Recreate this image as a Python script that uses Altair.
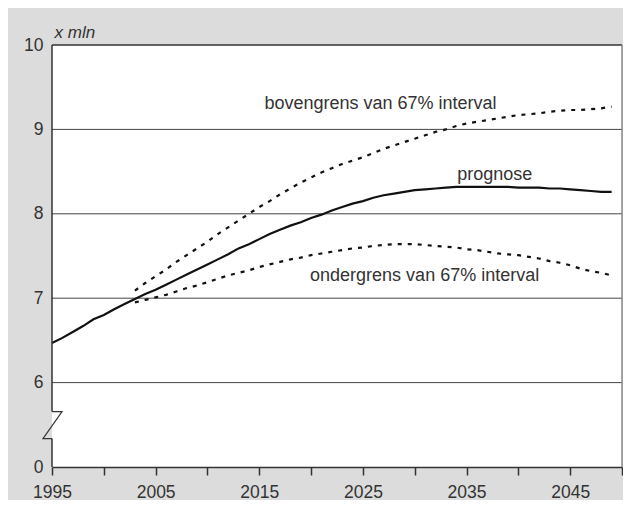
import altair as alt
import pandas as pd

# ---- data ----
years_prognose = list(range(1995, 2050))
prognose = [6.47, 6.53, 6.60, 6.67, 6.75, 6.80, 6.87, 6.93, 6.99, 7.05,
            7.10, 7.16, 7.22, 7.28, 7.34, 7.40, 7.46, 7.52, 7.59, 7.64,
            7.70, 7.76, 7.81, 7.86, 7.90, 7.95, 7.99, 8.04, 8.08, 8.12,
            8.15, 8.19, 8.22, 8.24, 8.26, 8.28, 8.29, 8.30, 8.31, 8.32,
            8.32, 8.32, 8.32, 8.32, 8.32, 8.31, 8.31, 8.31, 8.30, 8.30,
            8.29, 8.28, 8.27, 8.26, 8.26]

years_interval = list(range(2003, 2050))
bovengrens = [7.09, 7.18, 7.26, 7.34, 7.43, 7.51, 7.59, 7.67, 7.76, 7.84,
              7.92, 8.00, 8.08, 8.15, 8.23, 8.30, 8.37, 8.43, 8.49, 8.54,
              8.59, 8.63, 8.67, 8.72, 8.77, 8.81, 8.85, 8.89, 8.93, 8.97,
              9.00, 9.04, 9.07, 9.09, 9.11, 9.13, 9.15, 9.17, 9.18, 9.19,
              9.21, 9.22, 9.23, 9.23, 9.24, 9.25, 9.27]
ondergrens = [6.95, 6.98, 7.01, 7.04, 7.08, 7.12, 7.15, 7.19, 7.23, 7.27,
              7.30, 7.33, 7.37, 7.40, 7.43, 7.46, 7.48, 7.51, 7.53, 7.55,
              7.57, 7.59, 7.60, 7.62, 7.63, 7.64, 7.64, 7.64, 7.63, 7.62,
              7.61, 7.60, 7.58, 7.57, 7.55, 7.53, 7.52, 7.51, 7.49, 7.47,
              7.44, 7.42, 7.39, 7.35, 7.32, 7.30, 7.27]

x_ticks = list(range(1995, 2051, 5))
x_domain = [1995, 2050]
y_ticks = [5, 6, 7, 8, 9, 10]          # 5 is shown as "0" (broken axis)
y_domain = [5, 10]
grid_values = [6, 7, 8, 9]
top_value = [10]
right_year = [2050]

# broken-axis marker (year, value)
break_years = [1995, 1995.97, 1994.13, 1995]
break_values = [5.657, 5.657, 5.337, 5.337]
axis_seg_start = [5, 5.657]
axis_seg_end = [5.337, 10]

annot_labels = ["bovengrens van 67% interval", "prognose", "ondergrens van 67% interval"]
annot_years = [2015.5, 2034.1, 2019.9]
annot_values = [9.243, 8.40, 7.199]

FONT = "Liberation Sans"
TXT = "#333333"

# ---- tables ----
df_prog = pd.DataFrame({"year": years_prognose, "value": prognose, "series": "prognose"})
df_int = pd.concat([
    pd.DataFrame({"year": years_interval, "value": bovengrens, "series": "bovengrens"}),
    pd.DataFrame({"year": years_interval, "value": ondergrens, "series": "ondergrens"}),
])
df_grid = pd.DataFrame({"value": grid_values})
df_top = pd.DataFrame({"value": top_value})
df_right = pd.DataFrame({"year": right_year})
df_axis = pd.DataFrame({"year": [1995, 1995], "value": axis_seg_start, "value2": axis_seg_end})
df_break = pd.DataFrame({"year": break_years, "value": break_values, "i": list(range(len(break_years)))})
df_annot = pd.DataFrame({"year": annot_years, "value": annot_values, "label": annot_labels})

x_enc = alt.X(
    "year:Q",
    scale=alt.Scale(domain=x_domain, nice=False, zero=False),
    axis=alt.Axis(
        values=x_ticks, format="d",
        labelExpr="(datum.value - 1995) % 10 == 0 && datum.value < 2050 ? datum.label : ''",
        grid=False, domain=True, domainColor="#333333", domainWidth=1.5,
        ticks=True, tickColor="#333333", tickWidth=1.5, tickSize=8,
        labelFont=FONT, labelFontSize=17.5, labelColor=TXT, labelPadding=8,
        labelFlush=False, title=None,
    ),
)
y_enc = alt.Y(
    "value:Q",
    scale=alt.Scale(domain=y_domain, nice=False, zero=False),
    axis=alt.Axis(
        values=y_ticks,
        labelExpr="datum.value == 5 ? '0' : datum.label",
        grid=False, domain=False, ticks=False,
        labelFont=FONT, labelFontSize=17.5, labelColor=TXT, labelPadding=9,
        title="x mln", titleAngle=0, titleFont=FONT, titleFontSize=17,
        titleFontStyle="italic", titleFontWeight="normal", titleColor=TXT,
        titleAlign="left", titleBaseline="alphabetic", titleX=2, titleY=-8,
    ),
)

grid = alt.Chart(df_grid).mark_rule(color="#444444", strokeWidth=1).encode(y=y_enc)
top = alt.Chart(df_top).mark_rule(color="#333333", strokeWidth=1.5).encode(y=y_enc)
right = alt.Chart(df_right).mark_rule(color="#8a8a8a", strokeWidth=1.5).encode(x=x_enc)
axis_line = alt.Chart(df_axis).mark_rule(color="#333333", strokeWidth=1.5).encode(
    x=x_enc, y=y_enc, y2="value2:Q")
brk = alt.Chart(df_break).mark_line(color="#333333", strokeWidth=1.2, clip=False).encode(
    x=x_enc, y=y_enc, order="i:Q")

line_prog = alt.Chart(df_prog).mark_line(color="#111111", strokeWidth=2.2).encode(
    x=x_enc, y=y_enc)
line_int = alt.Chart(df_int).mark_line(color="#111111", strokeWidth=2.2, strokeDash=[4, 6]).encode(
    x=x_enc, y=y_enc, detail="series:N")

annot = alt.Chart(df_annot).mark_text(
    align="left", baseline="alphabetic", font=FONT, fontSize=18, color=TXT
).encode(x=x_enc, y=y_enc, text="label:N")

chart = alt.layer(grid, top, right, line_int, line_prog, annot, axis_line, brk).properties(
    width=570, height=422,
    autosize=alt.AutoSizeParams(type="none"),
    padding={"left": 44, "top": 37, "right": 1, "bottom": 33},
    background="#dcdcdc",
).configure_view(stroke=None, fill="white")

chart.save("out.html", embed_options={"renderer": "svg", "actions": False})
